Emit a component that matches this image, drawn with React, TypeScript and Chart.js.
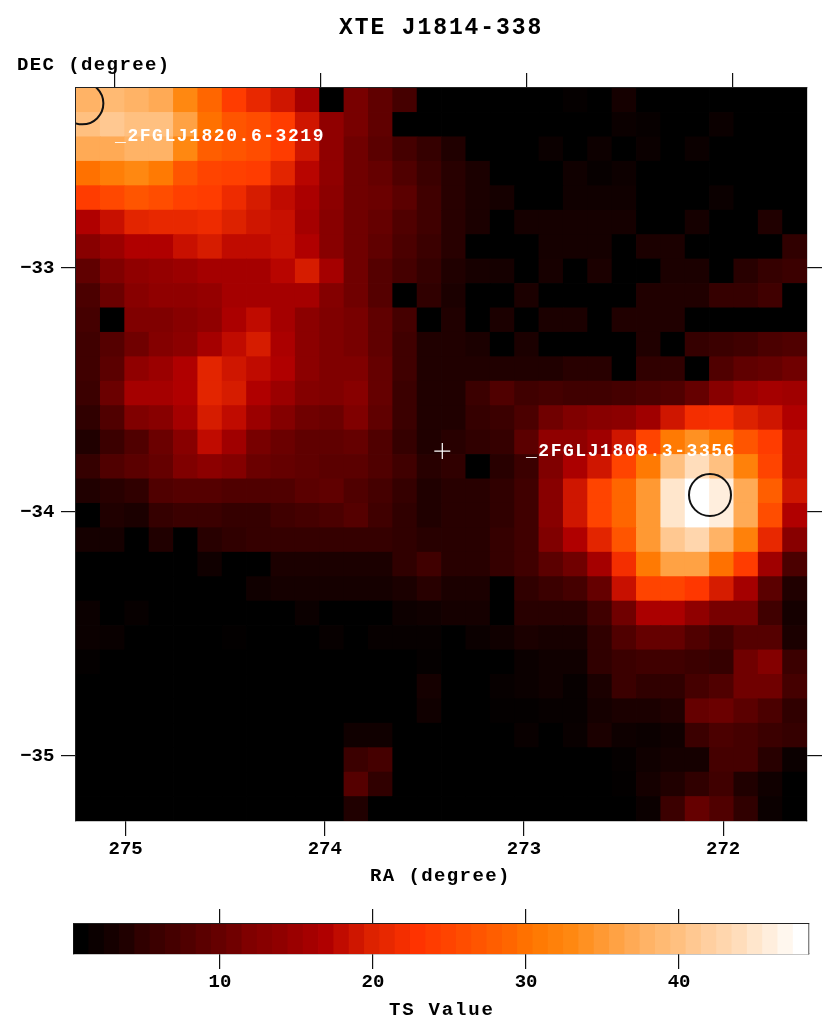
import React, { useEffect, useRef } from "react";
import { Chart, registerables } from "chart.js";

Chart.register(...registerables);

const chartTitle = "XTE J1814-338";
const raTitle = "RA (degree)";
const decTitle = "DEC (degree)";
const barTitle = "TS Value";
const raTicks = [275, 274, 273, 272];
const decTicks = [-33, -34, -35];
const barTicks = [10, 20, 30, 40];
const barLevels = Array.from({ length: 48 }, (_, i) => i + 1);

const sources = [
  { name: "_2FGLJ1820.6-3219", ra: 275.217, dec: -32.325, labelRa: 275.053, labelDec: -32.48 },
  { name: "_2FGLJ1808.3-3356", ra: 272.066, dec: -33.93, labelRa: 272.99, labelDec: -33.77 },
];
const target = { ra: 273.41, dec: -33.75 };

// TS values per sky pixel, first row = top of the map, first column = left
const tsValues: number[][] = [
  [38,39,38,37,33,29,24,21,19,16,1,11.5,9.5,7,1, 1,1,1,1,1,1.5,1,3,1,1,1,1,1,1,1],
  [40,41,40,40,36,30,27,26,24,19,14,11.5,9.5,1,1, 1,1,1,1,1,1,1,2,1.7,1,1,2,1,1,1],
  [37,37,38,38,33,28,27,26,24,19,14,11,9,7,5.5, 4,1,1,1,2,1,2.2,1,2,1,2,1,1,1,1],
  [30,31.5,33,31,27,25,24.5,24,20.5,17.5,14,11,10,8,6, 4.5,3.5,1,1,1,2.5,1.7,2.2,1,1,1,1,1,1,1],
  [24,25.5,27,26,24.5,24,21.5,19.5,18,16.5,13.5,11,10.5,9,6.5, 4.5,3.5,3,1,1,2.5,2.5,2.5,1,1,1,2,1,1,1],
  [17,18.5,20.5,21,21,21.5,20,19,18.5,16,13,11,10,8,6.5, 4.5,3.5,1,3,3,3,3,3,1,1,3,1,1,4,1],
  [13,15,17,17,18.5,19.5,18,18,18.5,17,13,11,9.5,7.5,6, 4.5,1,1,1,3,3,3,1,3.5,3.5,1,1,1,1,5],
  [9.5,12,14,14.5,15,16,16,16,17.5,19.5,16,11,8.5,7,5.5, 4,3.2,3,1,3.2,1,3.5,1,1,3.5,3.5,1,4.5,5.5,6],
  [7.5,10.5,13,14,14,14.5,16,16,16,16,12.5,11,8.5,1,5, 3.5,1,1,3.5,1,1,1,1,4,4,4,5.5,5.5,6.5,1],
  [7,1,12,12,13,14,16.5,18,16,13.5,12,11.5,9.5,7,1, 4,1,3.5,1,3.5,3.5,1,4,4,4,1,1,1,1,1],
  [6.5,8.5,11,12.5,13.5,16,18,19.5,16.5,13.5,12,11.5,9.5,6.5,4, 4,3.5,1,3.5,1,1,1,1,4,1,5.5,6,6.5,7.5,8],
  [6.5,9,14,15,17,20.5,19,18,17,13.5,12,12,10,6.5,4, 4,4,4,4,4,4.5,4.5,1,5,5,1,8,9.5,10,11],
  [6,10.5,16,16,17,20.5,19.5,17,15,12.5,12,13,10,6,4, 4,6,8,6.5,7,6.5,6.5,7,7.5,8,10,13,15,16,15.5],
  [5,8,12,13,16,19.5,18,15,12.5,11,10.5,12,9.5,6,4, 4,5.5,6,7.5,11,12,13,13.5,15.5,19,22,22.5,20,19,17],
  [4,6,8,10.5,13,18,15.5,11.5,10.5,9.5,9.5,10,8,5.5,4, 4.5,5,5.5,9,14,14,15.5,19,25,31,34,31,27,24,18],
  [5.5,8,9,10,12,13.5,12.5,10.5,10,9.5,9,9,8,6.5,4.5, 5,1,4.5,6,12,16.5,19,25,31,40,44,40,32,25,18],
  [4,4.5,5,8,8.5,8.5,8,8,8,9,9.5,8,7,5.5,4, 4.5,4.5,5,6.5,13,19,25,29,35,45,48,46,37,28,19],
  [1,4,3.5,5.5,6,6,5.5,5.5,6.5,7,7.5,8.5,6.5,5,4, 4.5,4.5,5,6.5,13,19,25,29,35,45,48,46,37,26,17],
  [3,3,1,4,1,4.5,5,5.5,5.5,5.5,5.5,5.5,5.5,5,4.5, 4.5,4.5,5.5,6.5,12,17,20.5,27,35,41,43,38,32,21,13],
  [1,1,1,1,1,2.5,1,1,3.5,3.5,3.5,3.5,3.5,5,6.5, 4.5,4.5,5.5,6.5,9,11,16,22,31,36,36,30,24,15.5,7.5],
  [1,1,1,1,1,1,1,2.5,3,3,3,3,3,3.5,4.5, 3.5,3.5,1,5,6,7,10,18.5,25,25,23.5,19.5,16,9,4],
  [2,1,1.7,1,1,1,1,1,1,2,1,1,1,2.2,2.5, 3,3,1,4.5,4.5,4.5,6.5,11,16.5,16.5,14,11.5,11.5,6.5,3],
  [2,1.8,1,1,1,1,1.3,1,1,1,1.7,1,1.7,1.7,1.7, 1,2,2.5,3.5,3.2,3.2,5,8,10,10,8,6.5,8.5,8.5,3.5],
  [1.4,1,1,1,1,1,1,1,1,1,1,1,1,1,1.5, 1,1,1,2,2.5,2.5,5,6,6.5,6.5,6,5.5,11,12.5,6],
  [1,1,1,1,1,1,1,1,1,1,1,1,1,1,3, 1,1,1.7,2,2.5,1.7,3.5,6,5,5,7,8,11,11,7],
  [1,1,1,1,1,1,1,1,1,1,1,1,1,1,2.5, 1,1,1.4,1.4,1.7,1.7,3,3.5,3.5,4,10,10.5,9,7.5,5],
  [1,1,1,1,1,1,1,1,1,1,1,2.5,2.5,1,1, 1,1,1,1.8,1,1.8,3.5,2.3,2,2.5,6,7.5,7,6,5.5],
  [1,1,1,1,1,1,1,1,1,1,1,6,7,1,1, 1,1,1,1,1,1,1,1.5,2.5,3,3,7,7,4.5,2],
  [1,1,1,1,1,1,1,1,1,1,1,8.5,5,1,1, 1,1,1,1,1,1,1,1.3,3,4,5,6.5,4,2.5,1],
  [1,1,1,1,1,1,1,1,1,1,1,4,1,1,1, 1,1,1,1,1,1,1,1,2,6,10,8,5,2,1],
];

// colour table: [TS, r, g, b]
const colorStops: number[][] = [
  [1,0,0,0],[2.5,16,0,0],[4,32,0,0],[5,48,0,0],[6.5,64,0,0],[8,80,0,0],[9.5,96,0,0],
  [11,112,0,0],[12,128,0,0],[14,144,0,0],[15.5,160,0,0],[17,176,0,0],[18.5,200,16,0],
  [20,221,34,0],[21,232,40,0],[23,255,51,0],[25,255,68,0],[27,255,85,0],[29,255,102,0],
  [30.5,255,119,0],[33,255,136,17],[35,255,153,51],[37,255,170,85],[38,255,179,102],
  [40,255,192,128],[41.5,255,204,153],[44,255,221,187],[46,255,238,221],[48,255,255,255],
];

function tsColor(v: number): string {
  let i = 0;
  while (i < colorStops.length - 2 && v > colorStops[i + 1][0]) i++;
  const a = colorStops[i];
  const b = colorStops[i + 1];
  const t = Math.max(0, Math.min(1, (v - a[0]) / (b[0] - a[0])));
  const c = [1, 2, 3].map((k) => Math.round(a[k] + (b[k] - a[k]) * t));
  return `rgb(${c[0]},${c[1]},${c[2]})`;
}

const FONT = '"Liberation Mono", "DejaVu Sans Mono", monospace';
const W = 830;
const MAP_H = 895;
const BAR_TOP = 895;
const BAR_H = 137;

function spaced(ctx: any, text: string, x: number, y: number, size: number, sp: number, color: string, align: CanvasTextAlign = "left") {
  ctx.save();
  ctx.letterSpacing = `${sp}px`;
  ctx.font = `bold ${size}px ${FONT}`;
  ctx.fillStyle = color;
  ctx.textAlign = align;
  ctx.textBaseline = "alphabetic";
  ctx.fillText(text, x, y);
  ctx.restore();
}

const tickAxis = (over: any) => ({
  type: "linear",
  offset: false,
  grid: { offset: false, drawOnChartArea: false, drawTicks: true, tickLength: 15, color: "#111", lineWidth: 1.2 },
  border: { display: true, color: "#222", width: 1.2 },
  ...over,
});

export default function App() {
  const mapRef = useRef<HTMLCanvasElement>(null);
  const barRef = useRef<HTMLCanvasElement>(null);

  useEffect(() => {
    document.body.style.margin = "0";
    const mapCtx: any = mapRef.current!.getContext("2d");
    mapCtx.letterSpacing = "1.4px";
    const barCtx: any = barRef.current!.getContext("2d");
    barCtx.letterSpacing = "1.4px";

    const tickFont = { family: FONT, size: 19, weight: "bold" as const };
    const columns = tsValues[0].map((_, i) => String(i));
    const rowsBottomUp = tsValues.map((_, i) => tsValues[tsValues.length - 1 - i]);

    const annotate = {
      id: "annotate",
      afterDraw(c: any) {
        const ctx = c.ctx;
        spaced(ctx, chartTitle, 339, 34, 23, 1.9, "#000");
        spaced(ctx, decTitle, 17, 70, 19, 1.4, "#000");
        spaced(ctx, raTitle, 370, 881, 19, 1.4, "#000");
        for (const s of sources) {
          spaced(ctx, s.name, c.scales.x.getPixelForValue(s.labelRa), c.scales.y.getPixelForValue(s.labelDec), 18, 1.55, "#fff");
        }
      },
    };

    const map = new Chart(mapRef.current!, {
      type: "bar",
      data: {
        labels: columns,
        datasets: [
          {
            type: "scatter",
            order: -2,
            xAxisID: "x",
            yAxisID: "y",
            data: sources.map((s) => ({ x: s.ra, y: s.dec })),
            pointStyle: "circle",
            pointRadius: 21,
            pointBorderWidth: 2,
            pointBorderColor: "#111",
            pointBackgroundColor: "transparent",
          },
          {
            type: "scatter",
            order: -1,
            xAxisID: "x",
            yAxisID: "y",
            data: [{ x: target.ra, y: target.dec }],
            pointStyle: "cross",
            pointRadius: 8,
            pointBorderWidth: 1.2,
            pointBorderColor: "#fff",
          },
          ...rowsBottomUp.map((row) => ({
            xAxisID: "cx",
            yAxisID: "cy",
            stack: "map",
            grouped: false,
            data: row.map(() => 1),
            backgroundColor: row.map(tsColor),
            borderWidth: 0,
            inflateAmount: 0.4,
            categoryPercentage: 1,
            barPercentage: 1,
          })),
        ],
      } as any,
      options: {
        animation: false,
        responsive: false,
        layout: { padding: 0 },
        plugins: { legend: { display: false }, tooltip: { enabled: false }, title: { display: false } },
        scales: {
          cx: { type: "category", display: false, stacked: true, grid: { lineWidth: 0 } },
          cy: { type: "linear", display: false, stacked: true, min: 0, max: 30, grid: { lineWidth: 0 } },
          x: tickAxis({
            position: "bottom",
            min: 271.579,
            max: 275.249,
            reverse: true,
            afterBuildTicks: (s: any) => { s.ticks = raTicks.map((value) => ({ value })); },
            afterFit: (s: any) => { s.height = MAP_H - 821; },
            ticks: { font: tickFont, color: "#000", padding: 1.5, autoSkip: false, maxRotation: 0, callback: (v: number) => String(v) },
          }),
          x2: tickAxis({
            position: "top",
            min: 271.64,
            max: 275.189,
            reverse: true,
            afterBuildTicks: (s: any) => { s.ticks = raTicks.map((value) => ({ value })); },
            afterFit: (s: any) => { s.height = 88; },
            ticks: { display: false },
          }),
          y: tickAxis({
            position: "left",
            min: -35.266,
            max: -32.262,
            afterBuildTicks: (s: any) => { s.ticks = decTicks.map((value) => ({ value })); },
            afterFit: (s: any) => { s.width = 76; },
            ticks: { font: tickFont, color: "#000", padding: 6.6, autoSkip: false, callback: (v: number) => `\u2212${Math.abs(v)}` },
          }),
          y2: tickAxis({
            position: "right",
            min: -35.266,
            max: -32.262,
            afterBuildTicks: (s: any) => { s.ticks = decTicks.map((value) => ({ value })); },
            afterFit: (s: any) => { s.width = W - 808; },
            ticks: { display: false },
          }),
        },
      } as any,
      plugins: [annotate],
    });

    const barAnnotate = {
      id: "barAnnotate",
      afterDraw(c: any) {
        spaced(c.ctx, barTitle, 389, 1015 - BAR_TOP, 19, 1.8, "#000");
      },
    };

    const bar = new Chart(barRef.current!, {
      type: "bar",
      data: {
        labels: barLevels.map(String),
        datasets: [
          {
            xAxisID: "cx",
            yAxisID: "cy",
            data: barLevels.map(() => 1),
            backgroundColor: barLevels.map(tsColor),
            borderWidth: 0,
            inflateAmount: 0.4,
            categoryPercentage: 1,
            barPercentage: 1,
          },
        ],
      } as any,
      options: {
        animation: false,
        responsive: false,
        layout: { padding: 0 },
        plugins: { legend: { display: false }, tooltip: { enabled: false } },
        scales: {
          cx: { type: "category", display: false, grid: { lineWidth: 0 } },
          cy: { type: "linear", display: false, min: 0, max: 1, grid: { lineWidth: 0 } },
          x: tickAxis({
            position: "bottom",
            min: 0.425,
            max: 48.46,
            afterBuildTicks: (s: any) => { s.ticks = barTicks.map((value) => ({ value })); },
            afterFit: (s: any) => { s.height = BAR_H - (954 - BAR_TOP); },
            ticks: { font: tickFont, color: "#000", padding: 1.5, autoSkip: false, maxRotation: 0, callback: (v: number) => String(v) },
          }),
          x2: tickAxis({
            position: "top",
            min: 0.425,
            max: 48.46,
            afterBuildTicks: (s: any) => { s.ticks = barTicks.map((value) => ({ value })); },
            afterFit: (s: any) => { s.height = 924 - BAR_TOP; },
            ticks: { display: false },
          }),
          y: tickAxis({
            position: "left",
            min: 0,
            max: 1,
            afterBuildTicks: (s: any) => { s.ticks = []; },
            afterFit: (s: any) => { s.width = 73.5; },
            ticks: { display: false },
          }),
          y2: tickAxis({
            position: "right",
            min: 0,
            max: 1,
            afterBuildTicks: (s: any) => { s.ticks = []; },
            afterFit: (s: any) => { s.width = W - 808.5; },
            ticks: { display: false },
          }),
        },
      } as any,
      plugins: [barAnnotate],
    });

    return () => {
      map.destroy();
      bar.destroy();
    };
  }, []);

  return (
    <div style={{ position: "relative", width: W, height: BAR_TOP + BAR_H, background: "#fff" }}>
      <canvas ref={mapRef} width={W} height={MAP_H} style={{ position: "absolute", left: 0, top: 0, display: "block" }} />
      <canvas ref={barRef} width={W} height={BAR_H} style={{ position: "absolute", left: 0, top: BAR_TOP, display: "block" }} />
    </div>
  );
}
